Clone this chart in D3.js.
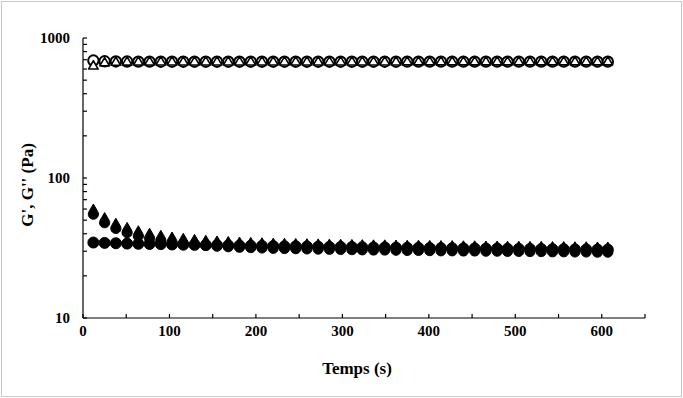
<!DOCTYPE html>
<html>
<head>
<meta charset="utf-8">
<script src="https://cdn.jsdelivr.net/npm/d3@7"></script>
<style>
  body { margin: 0; background: #fff; }
  svg { display: block; font-family: "Liberation Serif", "Times New Roman", serif; }
</style>
</head>
<body>
<div id="chart"></div>
<script>
// time points (s)
const times = [12, 25, 38, 51, 64, 77, 90, 103, 116, 129, 142, 155, 168, 181, 194, 207,
  220, 233, 246, 259, 272, 285, 298, 311, 323, 336, 349, 362, 375, 388, 401, 414,
  427, 440, 453, 466, 479, 491, 504, 517, 530, 543, 556, 569, 582, 595, 607];

// G' (open circles / open triangles)
const gPrimeCircle = [690, 682, 680, 679, 678, 678, 677, 677, 677, 677, 677, 677, 677, 677, 677, 677,
  677, 677, 677, 677, 677, 677, 677, 677, 677, 677, 677, 677, 678, 678, 678, 678,
  678, 678, 678, 678, 678, 678, 678, 678, 678, 678, 678, 678, 678, 678, 678];
const gPrimeTriangle = [628, 662, 668, 670, 671, 672, 672, 672, 672, 672, 672, 672, 672, 672, 672, 672,
  672, 672, 672, 672, 672, 672, 672, 672, 672, 672, 672, 672, 673, 673, 673, 673,
  673, 673, 673, 673, 673, 673, 673, 673, 673, 673, 673, 673, 673, 673, 673];

// G'' (filled circles / filled triangles)
const gSecCircle = [34.6, 34.4, 34.2, 34.0, 33.9, 33.8, 33.7, 33.5, 33.4, 33.3, 33.2, 33.1, 33.0, 32.9, 32.8, 32.7,
  32.6, 32.5, 32.5, 32.4, 32.3, 32.2, 32.2, 32.1, 32.0, 31.9, 31.9, 31.8, 31.7, 31.7, 31.6, 31.5,
  31.5, 31.4, 31.4, 31.3, 31.3, 31.2, 31.2, 31.1, 31.1, 31.0, 31.0, 30.9, 30.9, 30.8, 30.8];
const gSecTriangle = [57.5, 50.0, 45.5, 42.5, 40.2, 38.6, 37.3, 36.3, 35.5, 34.9, 34.4, 34.0, 33.7, 33.4, 33.2, 33.0,
  32.8, 32.7, 32.6, 32.5, 32.4, 32.3, 32.2, 32.1, 32.0, 31.9, 31.9, 31.8, 31.7, 31.7, 31.6, 31.5,
  31.5, 31.4, 31.4, 31.3, 31.3, 31.2, 31.2, 31.1, 31.1, 31.0, 31.0, 30.9, 30.9, 30.8, 30.8];

const xTicks = [0, 100, 200, 300, 400, 500, 600];
const yTicks = [10, 100, 1000];

const width = 683, height = 398;
const margin = { top: 38, right: 38, bottom: 80, left: 83 };

const svg = d3.select('#chart').append('svg')
  .attr('width', width)
  .attr('height', height);

// outer frame
svg.append('rect')
  .attr('x', 1.5).attr('y', 1.5)
  .attr('width', width - 3).attr('height', height - 3)
  .attr('fill', 'none')
  .attr('stroke', '#c8c8c8')
  .attr('stroke-width', 1);

const x = d3.scaleLinear().domain([0, 650]).range([margin.left, width - margin.right]);
const y = d3.scaleLog().domain([10, 1000]).range([height - margin.bottom, margin.top]);

// x axis: ticks pointing up, every 50
const xAxis = svg.append('g').attr('transform', `translate(0,${y(10)})`);
xAxis.append('line')
  .attr('x1', x(0)).attr('x2', x(650))
  .attr('stroke', '#000').attr('stroke-width', 1.2);
xAxis.selectAll('.xt').data(d3.range(0, 651, 50))
  .join('line')
  .attr('x1', d => x(d)).attr('x2', d => x(d))
  .attr('y1', 0).attr('y2', -4)
  .attr('stroke', '#000').attr('stroke-width', 1.2);
xAxis.selectAll('text').data(xTicks)
  .join('text')
  .attr('x', d => x(d)).attr('y', 18)
  .attr('text-anchor', 'middle')
  .attr('font-size', 15).attr('font-weight', 'bold')
  .text(d => d);

// y axis: log ticks pointing right
const yAxis = svg.append('g').attr('transform', `translate(${x(0)},0)`);
yAxis.append('line')
  .attr('y1', y(10)).attr('y2', y(1000))
  .attr('stroke', '#000').attr('stroke-width', 1.2);
yAxis.selectAll('.yt').data(y.ticks())
  .join('line')
  .attr('x1', 0).attr('x2', 4)
  .attr('y1', d => y(d)).attr('y2', d => y(d))
  .attr('stroke', '#000').attr('stroke-width', 1.2);
yAxis.selectAll('text').data(yTicks)
  .join('text')
  .attr('x', -13).attr('y', d => y(d))
  .attr('dy', '0.35em')
  .attr('text-anchor', 'end')
  .attr('font-size', 15).attr('font-weight', 'bold')
  .text(d => d);

// axis titles
svg.append('text')
  .attr('x', 357).attr('y', 374)
  .attr('text-anchor', 'middle')
  .attr('font-size', 17).attr('font-weight', 'bold')
  .text('Temps (s)');
svg.append('text')
  .attr('transform', `translate(33,185) rotate(-90)`)
  .attr('text-anchor', 'middle')
  .attr('font-size', 17).attr('font-weight', 'bold')
  .text("G', G'' (Pa)");

// teardrop-like triangle marker (pointed top, rounded base)
const symbolDrop = {
  draw(context, size) {
    const r = Math.sqrt(size / 5.2);
    const off = r * 0.5;
    context.moveTo(0, -2 * r + off);
    context.lineTo(r * Math.cos(-Math.PI / 6), r * Math.sin(-Math.PI / 6) + off);
    context.arc(0, off, r, -Math.PI / 6, 7 * Math.PI / 6, false);
    context.closePath();
  }
};

const circle = d3.symbol().type(d3.symbolCircle);
const tri = d3.symbol().type(d3.symbolTriangle);
const drop = d3.symbol().type(symbolDrop);

function drawSeries(values, sym, size, filled, sw) {
  svg.append('g').selectAll('path')
    .data(times.map((t, i) => [t, values[i]]))
    .join('path')
    .attr('transform', d => `translate(${x(d[0])},${y(d[1])})`)
    .attr('d', sym.size(size)())
    .attr('fill', filled ? '#000' : '#fff')
    .attr('stroke', '#000')
    .attr('stroke-width', sw)
    .attr('stroke-linejoin', 'round');
}

drawSeries(gPrimeCircle, circle, 85, false, 2);
drawSeries(gPrimeTriangle, tri, 40, false, 1.6);
drawSeries(gSecCircle, circle, 95, true, 1);
drawSeries(gSecTriangle, drop, 135, true, 1);
</script>
</body>
</html>
